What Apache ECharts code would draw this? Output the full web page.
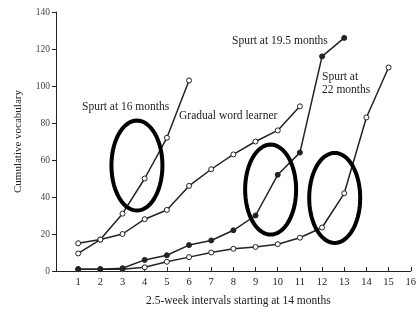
<!DOCTYPE html>
<html>
<head>
<meta charset="utf-8">
<script src="https://cdn.jsdelivr.net/npm/echarts@6/dist/echarts.min.js"></script>
<style>
  html, body { margin: 0; padding: 0; background: #fff; }
  #main { width: 419px; height: 312px; }
</style>
</head>
<body>
<div id="main"></div>
<script>
// x positions: 2.5-week intervals
var intervals = [1, 2, 3, 4, 5, 6, 7, 8, 9, 10, 11, 12, 13, 14, 15];
// cumulative vocabulary for each child
var spurt16 = [9.5, 17, 31, 50, 72, 103];
var gradual = [15, 17, 20, 28, 33, 46, 55, 63, 70, 76, 89];
var spurt195 = [1, 1, 1.5, 6, 8.5, 14, 16.5, 22, 30, 52, 64, 116, 126];
var spurt22 = [1, 1, 1, 2, 5, 7.5, 10, 12, 13, 14.5, 18, 23.5, 42, 83, 110];
// circled regions (data coords): centre x, centre y
var circleCentres = [[3.65, 57], [9.68, 44], [12.57, 39.5]];

var FONT = 'Liberation Serif';
var INK = '#222';

function pairs(ys) {
    var out = [];
    for (var i = 0; i < ys.length; i++) {
        out.push([intervals[i], ys[i]]);
    }
    return out;
}

function lineSeries(name, ys, filled) {
    return {
        name: name,
        type: 'line',
        data: pairs(ys),
        symbol: 'circle',
        symbolSize: 5,
        lineStyle: { color: INK, width: 1.5 },
        itemStyle: { color: filled ? INK : '#fff', borderColor: INK, borderWidth: 1 },
        z: filled ? 3 : 2,
        animation: false
    };
}

var chart = echarts.init(document.getElementById('main'));
var option = {
    backgroundColor: '#fff',
    animation: false,
    grid: { left: 56, right: 8, top: 12, bottom: 41 },
    xAxis: {
        type: 'value',
        min: 0,
        max: 16,
        interval: 1,
        name: '2.5-week intervals starting at 14 months',
        nameLocation: 'middle',
        nameGap: 24,
        nameTextStyle: { fontFamily: FONT, fontSize: 11.5, color: INK, padding: [0, 0, 0, 10] },
        axisLine: { lineStyle: { color: INK, width: 1 } },
        axisTick: { inside: true, length: 4, lineStyle: { color: INK } },
        axisLabel: {
            fontFamily: FONT, fontSize: 10.5, color: INK, margin: 6,
            formatter: function (v) { return v === 0 ? '' : v; }
        },
        splitLine: { show: false }
    },
    yAxis: {
        type: 'value',
        min: 0,
        max: 140,
        interval: 20,
        name: 'Cumulative vocabulary',
        nameLocation: 'middle',
        nameGap: 32,
        nameTextStyle: { fontFamily: FONT, fontSize: 11, color: INK },
        axisLine: { show: true, lineStyle: { color: INK, width: 1 } },
        axisTick: { show: true, length: 4, lineStyle: { color: INK } },
        axisLabel: { fontFamily: FONT, fontSize: 9.5, color: '#444', margin: 6 },
        splitLine: { show: false }
    },
    series: [
        lineSeries('Spurt at 16 months', spurt16, false),
        lineSeries('Gradual word learner', gradual, false),
        lineSeries('Spurt at 19.5 months', spurt195, true),
        lineSeries('Spurt at 22 months', spurt22, false)
    ]
};
chart.setOption(option);

// 注释文字 + 手画的椭圆
var textStyle = { fontFamily: FONT, fontSize: 11.5, fill: INK };
var graphics = [
    { type: 'text', left: 82, top: 101, style: Object.assign({ text: 'Spurt at 16 months' }, textStyle) },
    { type: 'text', left: 179, top: 110, style: Object.assign({ text: 'Gradual word learner' }, textStyle) },
    { type: 'text', left: 232, top: 35, style: Object.assign({ text: 'Spurt at 19.5 months' }, textStyle) },
    { type: 'text', left: 322, top: 70, style: Object.assign({ text: 'Spurt at\n22 months', align: 'center', lineHeight: 13 }, textStyle) }
];
var rx = 25.5, ry = 45;
for (var c = 0; c < circleCentres.length; c++) {
    var p = chart.convertToPixel({ gridIndex: 0 }, circleCentres[c]);
    var pts = [];
    for (var k = 0; k < 72; k++) {
        var t = k / 72 * Math.PI * 2;
        pts.push([p[0] + rx * Math.cos(t), p[1] + ry * Math.sin(t)]);
    }
    graphics.push({
        type: 'polygon',
        shape: { points: pts },
        style: { fill: 'none', stroke: '#000', lineWidth: 4 },
        z: 100
    });
}
chart.setOption({ graphic: graphics });
</script>
</body>
</html>
